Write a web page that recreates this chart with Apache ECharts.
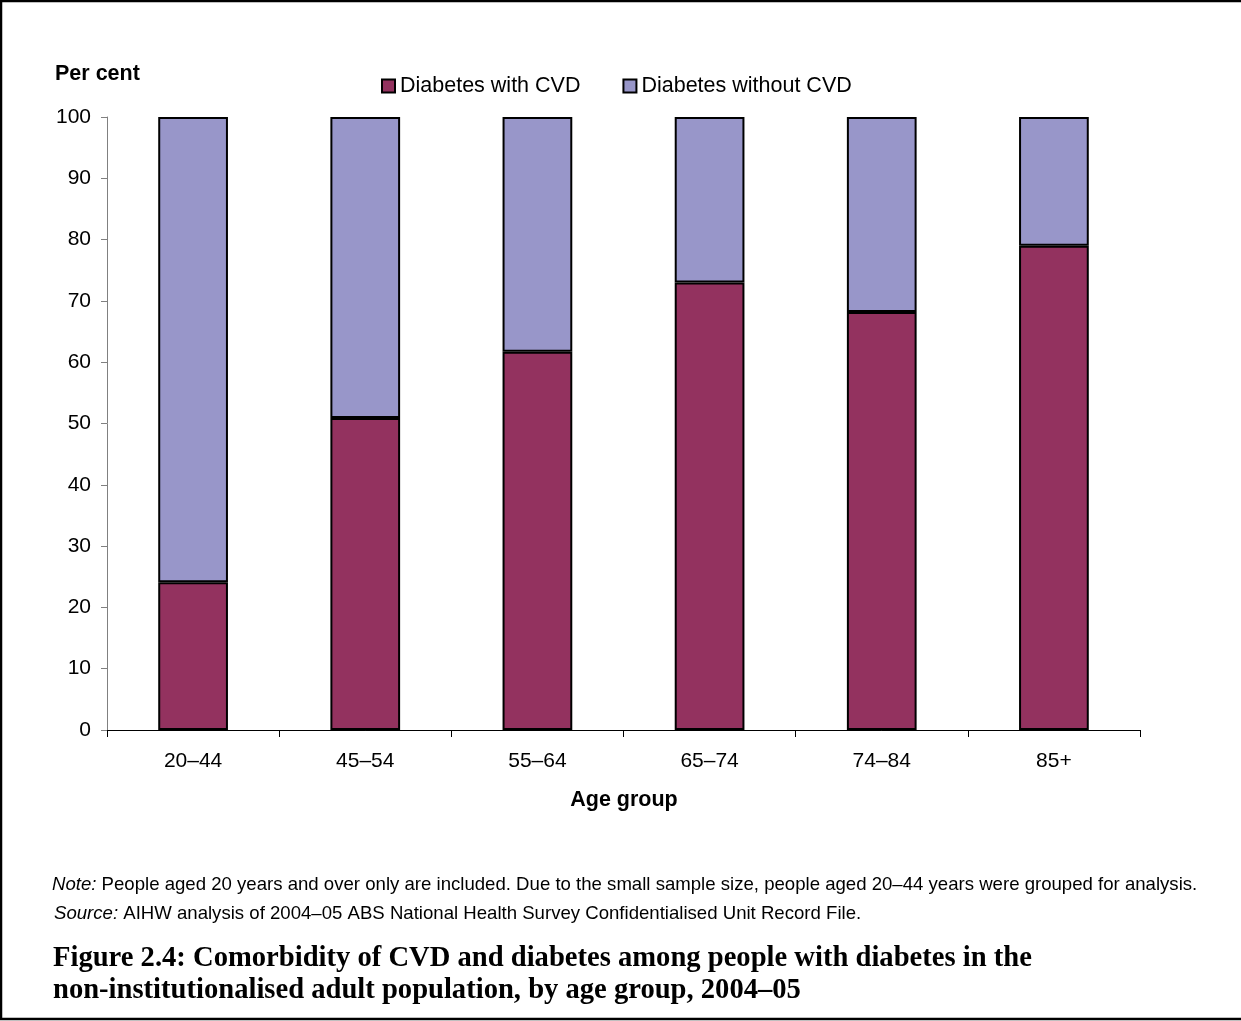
<!DOCTYPE html>
<html><head><meta charset="utf-8">
<script src="https://cdn.jsdelivr.net/npm/echarts@6/dist/echarts.min.js"></script>
<style>html,body{margin:0;padding:0;background:#fff}#c{width:1241px;height:1021px}</style>
</head><body><div id="c"></div>
<script>
var categories = ['20–44','45–54','55–64','65–74','74–84','85+'];
var withCVD = [24.1, 50.9, 61.7, 73.0, 68.2, 79.0];
var withoutCVD = [75.9, 49.1, 38.3, 27.0, 31.8, 21.0];
var yTicks = [0,10,20,30,40,50,60,70,80,90,100];

var chart = echarts.init(document.getElementById('c'));
var sans = 'Liberation Sans, Arial, sans-serif';
var serif = 'Liberation Serif, DejaVu Serif, serif';
var noteStyle = {fontFamily:sans,fontSize:18.6,fontWeight:'normal',color:'#000',
  rich:{i:{fontFamily:sans,fontSize:18.6,fontStyle:'italic',fontWeight:'normal',color:'#000'}}};
chart.setOption({
  animation:false,
  backgroundColor:'#fff',
  title:[
    {text:'Per cent', left:50, top:58, textStyle:{fontFamily:sans,fontSize:21.5,fontWeight:'bold',color:'#000'}},
    {text:'Age group', left:619, top:784, textAlign:'center', textStyle:{fontFamily:sans,fontSize:21.5,fontWeight:'bold',color:'#000'}},
    {text:'{i|Note:} People aged 20 years and over only are included. Due to the small sample size, people aged 20–44 years were grouped for analysis.', left:47, top:870,
     textStyle:noteStyle},
    {text:'{i|Source:} AIHW analysis of 2004–05 ABS National Health Survey Confidentialised Unit Record File.', left:49, top:899,
     textStyle:noteStyle},
    {text:'Figure 2.4: Comorbidity of CVD and diabetes among people with diabetes in the\nnon-institutionalised adult population, by age group, 2004–05', left:48, top:938,
     textStyle:{fontFamily:serif,fontSize:28.6,fontWeight:'bold',color:'#000',lineHeight:32}}
  ],
  graphic:[{type:'rect',shape:{x:1,y:1,width:1245,height:1018},style:{fill:'none',stroke:'#000',lineWidth:2.5},silent:true}],
  legend:{
    top:70, left:376, itemWidth:13, itemHeight:13, itemGap:42,
    textStyle:{fontFamily:sans,fontSize:21.5,color:'#000',padding:[0,0,0,0]},
    data:[{name:'Diabetes with CVD',icon:'rect',itemStyle:{borderColor:'#000',borderWidth:2}},
          {name:'Diabetes without CVD',icon:'rect',itemStyle:{borderColor:'#000',borderWidth:2}}]
  },
  grid:{left:107,right:101,top:117,bottom:291},
  xAxis:{
    type:'category', data:categories,
    axisLine:{lineStyle:{color:'#000',width:1}},
    axisTick:{show:true,length:7,lineStyle:{color:'#000'}},
    axisLabel:{fontFamily:sans,fontSize:21,color:'#000',margin:21}
  },
  yAxis:{
    type:'value', min:0, max:100, interval:10,
    axisLine:{show:true,lineStyle:{color:'#808080',width:1}},
    axisTick:{show:true,length:6,lineStyle:{color:'#808080'}},
    splitLine:{show:false},
    axisLabel:{fontFamily:sans,fontSize:21,color:'#000',margin:16,
      formatter:function(v){return yTicks.indexOf(v)>=0?String(v):'';}}
  },
  series:[
    {name:'Diabetes with CVD',type:'bar',stack:'a',data:withCVD,barWidth:'40.5%',
     itemStyle:{color:'#93325F',borderColor:'#000',borderWidth:2}},
    {name:'Diabetes without CVD',type:'bar',stack:'a',data:withoutCVD,barWidth:'40.5%',
     itemStyle:{color:'#9896C9',borderColor:'#000',borderWidth:2}}
  ]
});
</script></body></html>
